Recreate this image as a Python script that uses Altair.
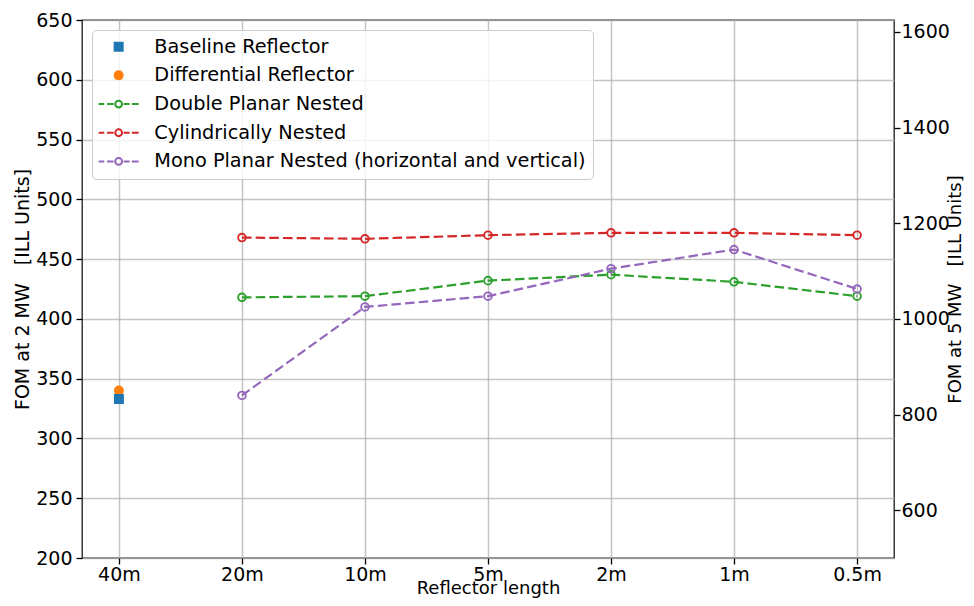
import altair as alt
import pandas as pd

# ---- data ----
categories = ["40m", "20m", "10m", "5m", "2m", "1m", "0.5m"]
nested_lengths = ["20m", "10m", "5m", "2m", "1m", "0.5m"]

baseline_fom = [333]
differential_fom = [340]
double_planar_fom = [418, 419, 432, 437, 431, 419]
cylindrical_fom = [468, 467, 470, 472, 472, 470]
mono_planar_fom = [336, 410, 419, 442, 458, 425]

series_names = [
    "Baseline Reflector",
    "Differential Reflector",
    "Double Planar Nested",
    "Cylindrically Nested",
    "Mono Planar Nested (horizontal and vertical)",
]
series_colors = ["#1f77b4", "#ff7f0e", "#2ca02c", "#d62728", "#9467bd"]

left_ticks = [200, 250, 300, 350, 400, 450, 500, 550, 600, 650]
right_ticks = [600, 800, 1000, 1200, 1400, 1600]
power_ratio = 5 / 2  # FOM at 5 MW relative to 2 MW

# ---- tables ----
rows = []
for name, vals in [
    (series_names[2], double_planar_fom),
    (series_names[3], cylindrical_fom),
    (series_names[4], mono_planar_fom),
]:
    for length, v in zip(nested_lengths, vals):
        rows.append({"series": name, "length": length,
                     "pos": categories.index(length), "fom": v})
nested_df = pd.DataFrame(rows)
baseline_df = pd.DataFrame({"series": [series_names[0]], "length": [categories[0]],
                            "pos": [0], "fom": baseline_fom})
diff_df = pd.DataFrame({"series": [series_names[1]], "length": [categories[0]],
                        "pos": [0], "fom": differential_fom})
all_df = pd.concat([baseline_df, diff_df, nested_df], ignore_index=True)

FONT = "DejaVu Sans"

x_enc = alt.X(
    "length:N",
    scale=alt.Scale(type="point", domain=categories, padding=0.3),
    axis=alt.Axis(title="Reflector length", labelAngle=0, labelPadding=1,
                  titleFontSize=18, titlePadding=-4.5, grid=True),
)
y_scale = alt.Scale(domain=[200, 650], nice=False, zero=False)
y_enc = alt.Y(
    "fom:Q",
    scale=y_scale,
    axis=alt.Axis(values=left_ticks, title="FOM at 2 MW\u00a0\u00a0\u00a0[ILL Units]",
                  titlePadding=3, grid=True),
)
# nested series only (the two 40m reflectors use fixed colours)
nested_color_scale = alt.Scale(domain=series_names[2:], range=series_colors[2:])

lines = alt.Chart(nested_df).mark_line(strokeDash=[9.5, 4.2], strokeWidth=2.2).encode(
    x=x_enc, y=y_enc,
    color=alt.Color("series:N", scale=nested_color_scale, legend=None),
    order=alt.Order("pos:Q"),
)
open_pts = alt.Chart(nested_df).mark_point(
    shape="circle", filled=False, size=58, strokeWidth=1.9, opacity=1
).encode(x=x_enc, y=y_enc,
         color=alt.Color("series:N", scale=nested_color_scale, legend=None))

diff_pts = alt.Chart(diff_df).mark_point(
    shape="circle", filled=True, size=100, opacity=1, color=series_colors[1]
).encode(x=x_enc, y=y_enc)

base_pts = alt.Chart(baseline_df).mark_point(
    shape="square", filled=True, size=100, opacity=1, color=series_colors[0]
).encode(x=x_enc, y=y_enc)

# legend symbols: square, circle and dashed line with open circle
line_sym = ("M-5,0L-3.6,0M-2.9,0L-1.25,0M1.25,0L2.75,0M3.3,0L5,0"
            "M0.85,0A0.85,0.85,0,1,1,-0.85,0A0.85,0.85,0,1,1,0.85,0Z")
legend_shapes = ["square", "circle", line_sym, line_sym, line_sym]
legend_fills = [series_colors[0], series_colors[1], "transparent", "transparent", "transparent"]

leg = alt.Legend(
    title=None, orient="none", legendX=10, legendY=10,
    padding=7, rowPadding=8.7, symbolOffset=10, labelOffset=26,
    labelFont=FONT, labelFontSize=19.3, labelColor="black", labelLimit=700,
    fillColor="rgba(255,255,255,0.8)", strokeColor="#cccccc", cornerRadius=4,
    symbolSize=64, symbolStrokeWidth=2, symbolOpacity=1,
)
# legend-only layer: no rows survive the filter, the legend comes from the scale domain
legend_layer = alt.Chart(all_df).transform_filter("false").mark_point(
    size=64, strokeWidth=2, opacity=1
).encode(
    x=x_enc, y=y_enc,
    shape=alt.Shape("series:N", scale=alt.Scale(domain=series_names, range=legend_shapes), legend=leg),
    fill=alt.Fill("series:N", scale=alt.Scale(domain=series_names, range=legend_fills), legend=leg),
    stroke=alt.Stroke("series:N", scale=alt.Scale(domain=series_names, range=series_colors), legend=leg),
)

inner = alt.layer(lines, open_pts, diff_pts, base_pts, legend_layer)

right_layer = alt.Chart(nested_df).mark_point(opacity=0).encode(
    x=x_enc,
    y=alt.Y(
        "fom:Q", scale=y_scale,
        axis=alt.Axis(
            orient="right", grid=False, labelPadding=1,
            values=[t / power_ratio for t in right_ticks],
            labelExpr=f"format(datum.value * {power_ratio}, 'd')",
            title="FOM at 5 MW\u00a0\u00a0\u00a0[ILL Units]", titleFontSize=18,
            titleAngle=270, titleBaseline="top", titlePadding=-2.5,
        ),
    ),
)

chart = alt.layer(inner, right_layer).resolve_axis(y="independent").properties(
    width=812, height=538,
    padding={"left": 74, "top": 12, "right": 72, "bottom": 40},
    autosize=alt.AutoSizeParams(type="none"),
).configure(font=FONT).configure_view(
    stroke="#1a1a1a", strokeWidth=1.3
).configure_axis(
    labelFont=FONT, titleFont=FONT,
    labelFontSize=19, titleFontSize=19,
    labelColor="black", titleColor="black", titleFontWeight="normal",
    tickColor="black", tickWidth=1.3, tickSize=6, labelPadding=4,
    domain=False, gridColor="#b0b0b0", gridWidth=1.5, gridOpacity=0.75,
)

chart.save("out.html", embed_options={"renderer": "svg", "actions": False})
